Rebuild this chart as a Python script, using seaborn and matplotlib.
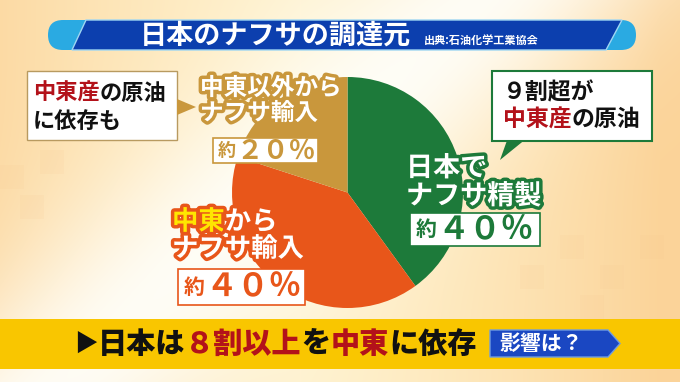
import numpy as np
import matplotlib
matplotlib.use("Agg")
import matplotlib.pyplot as plt
import seaborn as sns
import matplotlib.patheffects as pe
from matplotlib.patches import FancyBboxPatch, Polygon, Rectangle

# ---- data ----
categories = ["日本でナフサ精製", "中東からナフサ輸入", "中東以外からナフサ輸入"]
values = [40, 40, 20]
pct_nums = ["４０％", "４０％", "２０％"]
slice_colors = ["#1d7a3a", "#e8561a", "#c9973c"]
title = "日本のナフサの調達元"
source = "出典:石油化学工業協会"

sns.set_theme(style="white")
plt.rcParams["font.family"] = ["Noto Sans CJK JP", "DejaVu Sans"]

W, H = 680, 382
fig = plt.figure(figsize=(6.8, 3.82), dpi=100)
bg = fig.add_axes([0, 0, 1, 1])
bg.set_xlim(0, W); bg.set_ylim(H, 0); bg.axis("off")

# background gradient
yy, xx = np.mgrid[0:H, 0:W].astype(float)
cream = np.array([1.0, 0.945, 0.80])
peach = np.array([0.985, 0.83, 0.60])
white = np.array([1.0, 1.0, 0.985])
edge = np.clip(np.abs(xx - 300) / 360, 0, 1) ** 1.4
img = cream[None, None, :] * (1 - edge[..., None]) + peach[None, None, :] * edge[..., None]
# diagonal white band
d = ((xx - 60) * 382 + (yy - 382) * 420) / np.hypot(382, 420)
wb = np.exp(-(d / 110) ** 2) * 0.9
img = img * (1 - wb[..., None]) + white[None, None, :] * wb[..., None]
bg.imshow(img, extent=(0, W, H, 0), aspect="auto", zorder=0)
# faint checker squares
for (x0, y0) in [(560, 235), (600, 265), (640, 235), (580, 295), (520, 265), (0, 165), (20, 195), (40, 150)]:
    bg.add_patch(Rectangle((x0, y0), 24, 24, color="#f7c890", alpha=0.12, lw=0, zorder=1))

# ---- pie ----
ax_pie = fig.add_axes([232 / W, (H - 308) / H, 231 / W, 231 / H])
ax_pie.pie(values, colors=slice_colors, startangle=90, counterclock=False,
           wedgeprops=dict(edgecolor="none"))
ax_pie.set_xlim(-1, 1); ax_pie.set_ylim(-1, 1)
ax_pie.set_aspect("equal")
ax_pie.axis("off")

# ---- overlay ----
ov = fig.add_axes([0, 0, 1, 1], zorder=5)
ov.set_xlim(0, W); ov.set_ylim(H, 0); ov.axis("off")
ov.patch.set_alpha(0)
fig.canvas.draw()
rend = fig.canvas.get_renderer()


def segs(x, y, parts, size, stroke=None, sw=4, weight="bold"):
    for txt, col, *extra in parts:
        s = extra[0] if extra else size
        kw = {}
        if stroke:
            kw["path_effects"] = [pe.withStroke(linewidth=sw, foreground=stroke)]
        t = ov.text(x, y, txt, color=col, fontsize=s, fontweight=weight,
                    ha="left", va="center", zorder=10, **kw)
        bb = t.get_window_extent(rend)
        x += bb.width
    return x


# title bar
ov.add_patch(FancyBboxPatch((48, 20), 588, 30, boxstyle="round,pad=0,rounding_size=15",
                            fc="#2aaae2", ec="none", zorder=2))
ov.add_patch(Polygon([(86, 20), (622, 20), (606, 50), (72, 50)], closed=True,
                     fc="#0c3fae", ec="#9fd6f2", lw=1, zorder=3))
ov.text(140, 35.5, title, color="white", fontsize=19.5, fontweight="bold",
        ha="left", va="center", zorder=4)
ov.text(424, 40, source, color="white", fontsize=8, fontweight="bold",
        ha="left", va="center", zorder=4)

black = "#111111"
red = "#b3121a"

# left callout
ov.add_patch(Rectangle((27, 71), 150, 69, fc="white", ec="#b89a60", lw=1, zorder=6))
ov.add_patch(Polygon([(177, 99), (196, 107), (177, 115)], closed=True,
                     fc="#c9973c", ec="none", zorder=6))
segs(33, 93, [("中東産", red), ("の原油", black)], 16)
segs(33, 121, [("に依存も", black)], 16)

# right callout
ov.add_patch(Rectangle((492, 71), 160, 70, fc="white", ec="#1d7a3a", lw=1.5, zorder=6))
ov.add_patch(Polygon([(507, 140.5), (524, 140.5), (500, 160)], closed=True,
                     fc="#1d7a3a", ec="none", zorder=6))
segs(503, 93, [("９割超が", black)], 16.5)
segs(503, 120, [("中東産", red), ("の原油", black)], 16.5)

# slice labels
gold, green, orange = slice_colors[2], slice_colors[0], slice_colors[1]
segs(200, 88, [("中東以外から", "white")], 17, stroke=gold, sw=5)
segs(200, 113, [("ナフサ輸入", "white")], 17, stroke=gold, sw=5)
ov.add_patch(Rectangle((213, 138), 105, 25, fc="white", ec=gold, lw=1.2, zorder=6))
segs(218, 151, [("約", gold, 13), (pct_nums[2], gold, 19)], 19)

segs(406, 168, [("日本で", "white")], 19.5, stroke=green, sw=5)
segs(406, 196, [("ナフサ精製", "white")], 19.5, stroke=green, sw=5)
ov.add_patch(Rectangle((410, 213), 130, 33, fc="white", ec=green, lw=1.2, zorder=6))
segs(416, 230, [("約", green, 15), (pct_nums[0], green, 23)], 23)

segs(172, 222, [("中東", "#ffe600"), ("から", "white")], 19, stroke=orange, sw=5)
segs(172, 249, [("ナフサ輸入", "white")], 19, stroke=orange, sw=5)
ov.add_patch(Rectangle((178, 269), 127, 36, fc="white", ec=orange, lw=1.2, zorder=6))
segs(184, 287, [("約", orange, 15), (pct_nums[1], orange, 23)], 23)

# bottom banner
ov.add_patch(Rectangle((0, 319), W, 50, fc="#f9c600", ec="none", zorder=6))
segs(74, 344, [("▶", black, 17), ("日本は", black), ("８割以上", red), ("を", black),
               ("中東", red), ("に依存", black)], 21, weight="heavy")
ov.add_patch(Polygon([(490, 330), (608, 330), (620, 343.5), (608, 357), (490, 357)],
                     closed=True, fc="#1a47c2", ec="#6f9be0", lw=1, zorder=6))
ov.text(499, 343.5, "影響は？", color="white", fontsize=15, fontweight="bold",
        ha="left", va="center", zorder=10)

fig.savefig("out.png", dpi=100)
